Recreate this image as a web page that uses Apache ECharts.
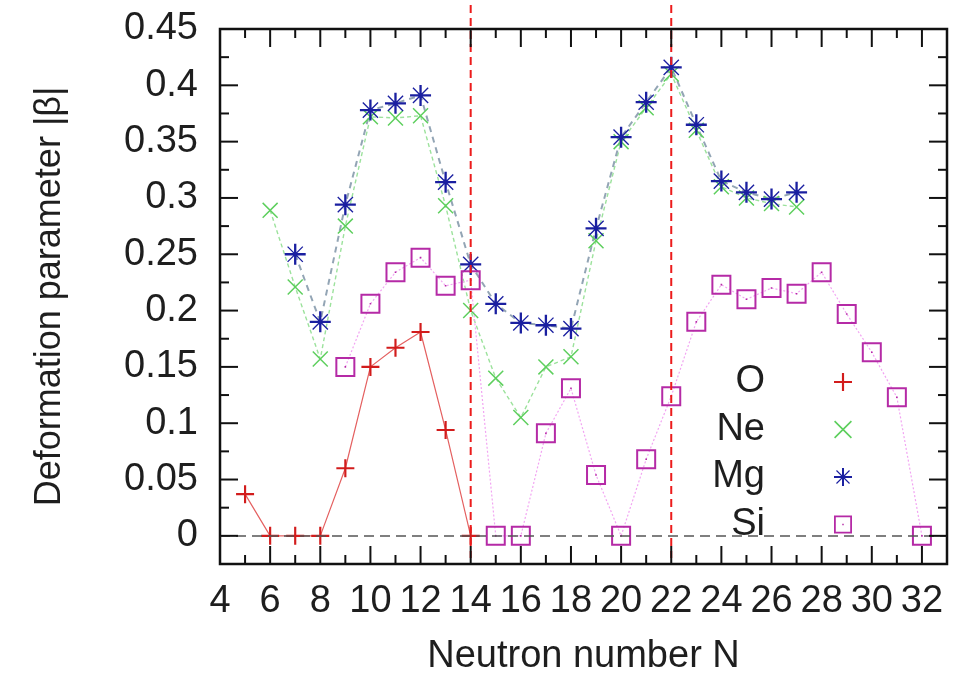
<!DOCTYPE html>
<html>
<head>
<meta charset="utf-8">
<title>Deformation parameter vs neutron number</title>
<script src="https://cdn.jsdelivr.net/npm/echarts@6/dist/echarts.min.js"></script>
<style>
  html, body { margin: 0; padding: 0; background: #ffffff; }
  #chart { width: 953px; height: 682px; }
</style>
</head>
<body>
<div id="chart"></div>
<script>
// Neutron numbers and |beta| for each isotope chain
const oN = [5, 6, 7, 8, 9, 10, 11, 12, 13, 14];
const oBeta = [0.037, 0, 0, 0, 0.060, 0.150, 0.167, 0.181, 0.094, 0];

const neN = [6, 7, 8, 9, 10, 11, 12, 13, 14, 15, 16, 17, 18, 19, 20, 21, 22, 23, 24, 25, 26, 27];
const neBeta = [0.289, 0.221, 0.157, 0.275, 0.372, 0.371, 0.373, 0.293, 0.200, 0.140, 0.105,
                0.150, 0.159, 0.262, 0.350, 0.380, 0.410, 0.360, 0.310, 0.300, 0.295, 0.292];

const mgN = [7, 8, 9, 10, 11, 12, 13, 14, 15, 16, 17, 18, 19, 20, 21, 22, 23, 24, 25, 26, 27];
const mgBeta = [0.250, 0.190, 0.294, 0.378, 0.384, 0.391, 0.314, 0.241, 0.206, 0.189, 0.187,
                0.184, 0.273, 0.354, 0.385, 0.416, 0.365, 0.315, 0.305, 0.299, 0.305];

const siN = [9, 10, 11, 12, 13, 14, 15, 16, 17, 18, 19, 20, 21, 22, 23, 24, 25, 26, 27, 28, 29, 30, 31, 32];
const siBeta = [0.150, 0.206, 0.234, 0.247, 0.222, 0.227, 0, 0, 0.091, 0.131, 0.054, 0,
                0.068, 0.124, 0.190, 0.223, 0.210, 0.220, 0.215, 0.234, 0.197, 0.163, 0.123, 0];

// Magic neutron numbers marked with vertical lines
const magicN = [14, 22];

// Axis ranges and ticks
const xRange = [4, 33];
const yRange = [-0.025, 0.45];
const xMajorTicks = [4, 6, 8, 10, 12, 14, 16, 18, 20, 22, 24, 26, 28, 30, 32];
const xMinorTicks = [5, 7, 9, 11, 13, 15, 17, 19, 21, 23, 25, 27, 29, 31];
const yMajorTicks = [0, 0.05, 0.1, 0.15, 0.2, 0.25, 0.3, 0.35, 0.4, 0.45];
const yMinorTicks = [0.025, 0.075, 0.125, 0.175, 0.225, 0.275, 0.325, 0.375, 0.425];

const zip = (xs, ys) => xs.map((x, i) => [x, ys[i]]);

// Point symbols (filled outlines in a 20x20 box)
const symPlus = 'path://M8.8,0L11.2,0L11.2,8.8L20,8.8L20,11.2L11.2,11.2L11.2,20L8.8,20L8.8,11.2L0,11.2L0,8.8L8.8,8.8Z';
const symCross = 'path://M0,1.3L1.3,0L20,18.7L18.7,20Z M18.7,0L20,1.3L1.3,20L0,18.7Z';
const symStar = 'path://M8.9,0L11.1,0L11.1,8.9L20,8.9L20,11.1L11.1,11.1L11.1,20L8.9,20L8.9,11.1L0,11.1L0,8.9L8.9,8.9Z' +
                ' M2.3,3.2L3.2,2.3L17.7,16.8L16.8,17.7Z M16.8,2.3L17.7,3.2L3.2,17.7L2.3,16.8Z';
const symBox = 'path://M0,0L20,0L20,20L0,20Z M2,2L2,18L18,18L18,2Z M9.2,9.2L10.8,9.2L10.8,10.8L9.2,10.8Z';

const FONT = 'Liberation Sans, Arial, sans-serif';
const textStyle = { fontFamily: FONT, fontSize: 38, color: '#1e1e1e' };

const xAxis = {
  type: 'value', min: xRange[0], max: xRange[1],
  axisLine: { show: false, onZero: false }, splitLine: { show: false },
  axisTick: { show: false },
  axisLabel: Object.assign({ customValues: xMajorTicks, margin: 19 }, textStyle),
  name: 'Neutron number N', nameLocation: 'middle', nameGap: 74,
  nameTextStyle: Object.assign({}, textStyle)
};
const yAxis = {
  type: 'value', min: yRange[0], max: yRange[1],
  axisLine: { show: false, onZero: false }, splitLine: { show: false },
  axisTick: { show: false },
  axisLabel: Object.assign({ customValues: yMajorTicks, margin: 22 }, textStyle),
  name: 'Deformation parameter |β|', nameLocation: 'middle', nameGap: 152, nameRotate: 90,
  nameTextStyle: Object.assign({}, textStyle, { fontSize: 36 })
};

// Inward tick marks along one side of the frame, positioned by the axis scale
function tickSeries(side, ticks, len) {
  const vertical = side === 'bottom' || side === 'top';
  return {
    type: 'custom', silent: true, clip: false, z: 10,
    data: ticks.map(v => vertical ? [v, 0] : [xRange[0], v]),
    encode: { x: 0, y: 1 },
    renderItem: function (params, api) {
      const cs = params.coordSys;
      const p = api.coord([api.value(0), api.value(1)]);
      let shape;
      if (side === 'bottom') {
        const b = cs.y + cs.height;
        shape = { x1: p[0], y1: b, x2: p[0], y2: b - len };
      } else if (side === 'top') {
        shape = { x1: p[0], y1: cs.y, x2: p[0], y2: cs.y + len };
      } else if (side === 'left') {
        shape = { x1: cs.x, y1: p[1], x2: cs.x + len, y2: p[1] };
      } else {
        const r = cs.x + cs.width;
        shape = { x1: r, y1: p[1], x2: r - len, y2: p[1] };
      }
      return { type: 'line', shape: shape, style: { stroke: '#111111', lineWidth: 2 } };
    }
  };
}

function pointSeries(name, data, symbol, size, color, line) {
  return {
    type: 'line', name: name, data: data,
    symbol: symbol, symbolSize: size, showAllSymbol: true,
    itemStyle: { color: color, borderWidth: 0 },
    lineStyle: line,
    emphasis: { disabled: true }
  };
}

const seriesO = pointSeries('O', zip(oN, oBeta), symPlus, 18, '#d21c1c',
  { color: '#e46060', width: 1.2, type: 'solid' });
seriesO.markLine = {
  silent: true, symbol: ['none', 'none'], label: { show: false },
  lineStyle: { color: '#555', width: 1.5, type: [10, 6] },
  data: [{ yAxis: 0 }]
};
const seriesNe = pointSeries('Ne', zip(neN, neBeta), symCross, 16, '#5dcf5d',
  { color: '#9ce29c', width: 1.4, type: [4, 3] });
const seriesMg = pointSeries('Mg', zip(mgN, mgBeta), symStar, 21, '#1a1fa0',
  { color: '#93a5b5', width: 2, type: [6, 5] });
const seriesSi = pointSeries('Si', zip(siN, siBeta), symBox, 20, '#b52aa6',
  { color: '#f2a4f2', width: 1.2, type: [2, 2] });

// Vertical dashed lines at the magic numbers, reaching a little above the frame
const seriesMagic = {
  type: 'custom', silent: true, clip: false, z: 10,
  data: magicN.map(n => [n, 0]),
  encode: { x: 0, y: 1 },
  renderItem: function (params, api) {
    const cs = params.coordSys;
    const x = api.coord([api.value(0), 0])[0];
    return {
      type: 'line',
      shape: { x1: x, y1: cs.y - 24, x2: x, y2: cs.y + cs.height - 6 },
      style: { stroke: '#ec1c1c', lineWidth: 2, lineDash: [8, 5] }
    };
  }
};

const chart = echarts.init(document.getElementById('chart'), null, { renderer: 'canvas' });
chart.setOption({
  animation: false,
  backgroundColor: '#ffffff',
  grid: { left: 220, right: 6, top: 29, bottom: 118, show: true, borderColor: '#111', borderWidth: 2.5 },
  xAxis: xAxis,
  yAxis: yAxis,
  legend: {
    orient: 'vertical', align: 'right', right: 96, top: 357,
    itemWidth: 18, itemHeight: 18, itemGap: 7.5, selectedMode: false,
    textStyle: Object.assign({}, textStyle, { lineHeight: 40, padding: [0, 64, 0, 0] }),
    data: [
      { name: 'O', icon: symPlus },
      { name: 'Ne', icon: symCross },
      { name: 'Mg', icon: symStar },
      { name: 'Si', icon: symBox }
    ]
  },
  series: [
    seriesO, seriesNe, seriesMg, seriesSi, seriesMagic,
    tickSeries('bottom', xMajorTicks, 18), tickSeries('bottom', xMinorTicks, 9),
    tickSeries('top', xMajorTicks, 18), tickSeries('top', xMinorTicks, 9),
    tickSeries('left', yMajorTicks, 18), tickSeries('left', yMinorTicks, 9),
    tickSeries('right', yMajorTicks, 18), tickSeries('right', yMinorTicks, 9)
  ]
});
</script>
</body>
</html>
